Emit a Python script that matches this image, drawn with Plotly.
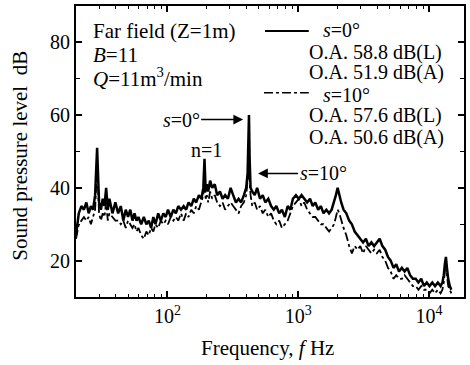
import plotly.graph_objects as go

freq_hz = [20, 21, 22, 23, 24, 25, 26, 27, 28, 29, 30, 31, 32, 33, 34, 35, 36, 38, 40, 42,
           44, 46, 48, 50, 52, 54, 56, 58, 60, 63, 66, 69, 72, 75, 78, 81, 85, 89, 93, 97,
           101, 106, 111, 116, 121, 127, 133, 139, 145, 152, 159, 166, 174, 182, 188, 192, 196, 200, 205, 212,
           220, 230, 240, 252, 264, 276, 290, 304, 318, 334, 350, 366, 384, 400, 410, 415, 420, 425, 432, 445,
           465, 485, 510, 535, 560, 590, 620, 650, 680, 715, 750, 790, 830, 870, 910, 960, 1010, 1060, 1110, 1170,
           1230, 1290, 1350, 1420, 1490, 1560, 1640, 1720, 1800, 1880, 1940, 2000, 2060, 2130, 2220, 2330, 2450, 2570, 2700, 2840,
           2980, 3130, 3290, 3450, 3620, 3800, 3990, 4190, 4400, 4620, 4850, 5090, 5350, 5610, 5890, 6190, 6500, 6820, 7160, 7520,
           7900, 8290, 8710, 9140, 9600, 10080, 10580, 11110, 11670, 12250, 12650, 12950, 13200, 13450, 13700, 14000, 14400, 14800]

spl_s0 = [27, 33, 35, 34, 36, 33, 35, 34, 38, 51, 36, 34, 37, 35, 40, 34, 37, 33, 36, 33,
          35, 31, 34, 32, 34, 31, 33, 31, 32, 30, 32, 30, 31, 29, 32, 30, 33, 31, 33, 32,
          34, 32, 34, 33, 35, 34, 35, 34, 36, 35, 37, 36, 38, 37, 40, 48, 39, 41, 39, 42,
          40, 41, 38, 39, 37, 38, 37, 40, 38, 36, 37, 36, 38, 40, 44, 52, 60, 48, 40, 39,
          38, 40, 37, 38, 36, 37, 35, 34, 35, 33, 34, 32, 35, 34, 37, 38, 37, 38, 37, 36,
          37, 35, 36, 34, 35, 33, 34, 33, 34, 36, 38, 40, 38, 36, 34, 33, 31, 30, 28, 27,
          26, 25, 26, 24, 25, 24, 25, 26, 24, 23, 21, 20, 18, 19, 17, 18, 17, 18, 16, 15,
          15, 14, 15, 13, 14, 13, 14, 13, 14, 13, 14, 16, 19, 21, 18, 15, 13, 12]

spl_s10 = [26, 30, 31, 32, 31, 32, 30, 32, 34, 47, 33, 31, 33, 32, 36, 31, 33, 32, 31, 31,
           30, 31, 29, 31, 30, 29, 30, 28, 29, 27, 26, 28, 27, 29, 28, 30, 29, 31, 30, 31,
           30, 32, 31, 32, 31, 33, 31, 33, 32, 34, 33, 35, 34, 36, 38, 43, 37, 38, 36, 39,
           37, 38, 36, 35, 36, 34, 35, 36, 35, 34, 33, 35, 36, 38, 41, 44, 43, 42, 38, 35,
           36, 34, 35, 33, 34, 32, 33, 31, 30, 31, 29, 30, 31, 33, 35, 36, 37, 35, 36, 34,
           33, 32, 32, 31, 30, 30, 29, 28, 29, 30, 32, 34, 33, 31, 29, 27, 24, 22, 24, 23,
           24, 22, 24, 23, 22, 23, 22, 23, 21, 20, 18, 17, 15, 16, 15, 15, 16, 15, 14, 13,
           13, 12, 13, 12, 12, 11, 12, 11, 12, 11, 12, 14, 17, 20, 16, 13, 12, 11]

y_ticks = [20, 40, 60, 80]
x_ticks = [100, 1000, 10000]
x_tick_text = ["10<sup>2</sup>", "10<sup>3</sup>", "10<sup>4</sup>"]

W, H = 470, 365
L, R, T, B = 76, 466, 5, 297
FONT = "Liberation Serif"
FS = 20


def px(X):
    return (X - L) / (R - L)


def py(Y):
    return (B - Y) / (B - T)


fig = go.Figure()
fig.add_trace(go.Scatter(x=freq_hz, y=spl_s10, mode="lines",
                         line=dict(color="black", width=1.8, dash="dashdot"),
                         showlegend=False))
fig.add_trace(go.Scatter(x=freq_hz, y=spl_s0, mode="lines",
                         line=dict(color="black", width=2.5),
                         showlegend=False))

minor_vals = [m * d for d in (10, 100, 1000, 10000) for m in range(2, 10)]

fig.update_xaxes(type="log", range=[1.301, 4.267], tickvals=x_ticks, ticktext=x_tick_text,
                 ticks="inside", ticklen=6, tickwidth=1.5, tickcolor="black",
                 showline=True, linewidth=2, linecolor="black", mirror="ticks",
                 showgrid=False, zeroline=False,
                 minor=dict(tickvals=minor_vals, ticks="inside", ticklen=3, tickwidth=1,
                            tickcolor="black", showgrid=False),
                 tickfont=dict(family=FONT, size=20, color="black"))
fig.update_yaxes(range=[10, 90], tickvals=y_ticks, ticks="inside", ticklen=6, tickwidth=1.5,
                 tickcolor="black", showline=True, linewidth=2, linecolor="black", mirror="ticks",
                 showgrid=False, zeroline=False,
                 minor=dict(dtick=10, ticks="inside", ticklen=4, tickwidth=1,
                            tickcolor="black", showgrid=False),
                 tickfont=dict(family=FONT, size=20, color="black"))

ann = []


def text(X, Y, s, anchor="left", size=FS):
    ann.append(dict(x=px(X), y=py(Y), xref="paper", yref="paper", text=s, showarrow=False,
                    xanchor=anchor, yanchor="middle",
                    font=dict(family=FONT, size=size, color="black")))


def arrow_text(head_x, head_y, text_cx, s):
    ann.append(dict(x=px(head_x), y=py(head_y), xref="paper", yref="paper", text=s,
                    showarrow=True, ax=text_cx - head_x, ay=0, standoff=0,
                    arrowhead=2, arrowsize=1.3, arrowwidth=1.5, arrowcolor="black",
                    font=dict(family=FONT, size=FS, color="black")))


text(91, 30, "Far field (Z=1m)", size=21)
text(91, 54, "<i>B</i>=11", size=21)
text(91, 77, "<i>Q</i>=11m<sup>3</sup>/min", size=21)
text(322, 29, "<i>s</i>=0°")
text(308, 52, "O.A. 58.8 dB(L)")
text(308, 72, "O.A. 51.9 dB(A)")
text(322, 94, "<i>s</i>=10°")
text(308, 115, "O.A. 57.6 dB(L)")
text(308, 137, "O.A. 50.6 dB(A)")
arrow_text(244, 119, 182, "<i>s</i>=0°")
text(190, 149, "n=1")
arrow_text(259, 173, 324, "<i>s</i>=10°")
text(268, 348, "Frequency, <i>f</i> Hz", anchor="center", size=21)
ann.append(dict(x=(20 - L) / (R - L), y=py(155), xref="paper", yref="paper",
                text="Sound pressure level  dB", showarrow=False, textangle=-90,
                xanchor="center", yanchor="middle",
                font=dict(family=FONT, size=21, color="black")))

shapes = [
    dict(type="line", xref="paper", yref="paper", x0=px(266), x1=px(310), y0=py(30), y1=py(30),
         line=dict(color="black", width=2)),
    dict(type="line", xref="paper", yref="paper", x0=px(265), x1=px(310), y0=py(92), y1=py(92),
         line=dict(color="black", width=1.5, dash="dashdot")),
]

fig.update_layout(width=W, height=H, margin=dict(l=L, r=W - R, t=T, b=H - B),
                  paper_bgcolor="white", plot_bgcolor="white",
                  annotations=ann, shapes=shapes, showlegend=False)

fig.write_html("out.html")
